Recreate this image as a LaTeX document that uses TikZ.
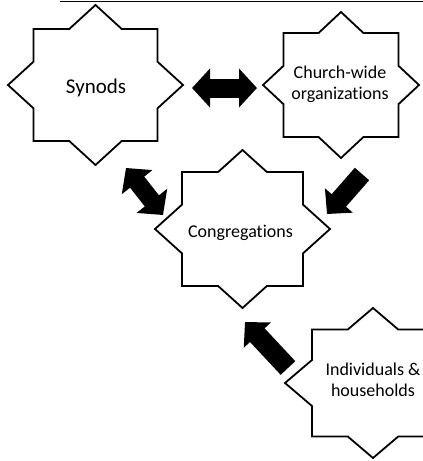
\documentclass[tikz,border=0pt]{standalone}
\usepackage{fontspec}
\setmainfont{Carlito}[Ligatures=NoCommon]
\usetikzlibrary{arrows.meta,calc}

\tikzset{
  starline/.style={line width=1.8pt, line join=miter},
  starlabel/.style={font=\fontsize{18}{21}\selectfont, align=center, inner sep=0pt},
  onearrow/.style={line width=19pt, -{Triangle[length=18pt,width=36pt]}},
  twoarrow/.style={line width=19pt, {Triangle[length=18pt,width=38pt]}-{Triangle[length=18pt,width=38pt]}}
}

% eight-pointed star: centre, half width and height of the points, half width and height of the square
\newcommand{\octostar}[5]{%
  \draw[starline, shift={#1}] (0,-#3) -- ({#2*(1-#5/#3)},-#5) -- (#4,-#5) -- (#4,{-#3*(1-#4/#2)})
    -- (#2,0) -- (#4,{#3*(1-#4/#2)}) -- (#4,#5) -- ({#2*(1-#5/#3)},#5)
    -- (0,#3) -- ({-#2*(1-#5/#3)},#5) -- (-#4,#5) -- (-#4,{#3*(1-#4/#2)})
    -- (-#2,0) -- (-#4,{-#3*(1-#4/#2)}) -- (-#4,-#5) -- ({-#2*(1-#5/#3)},-#5) -- cycle;}

\begin{document}
\begin{tikzpicture}[x=1pt,y=-1pt]
	\useasboundingbox (0,0) rectangle (423,461);
	% Frame edge at the top
	\draw[line width=1.5pt] (60,1.5) -- (423,1.5);
	% Stars
	\octostar{(95.5,85)}{87.5}{80}{62}{56}
	\octostar{(341,85)}{78}{73}{57.5}{52}
	\octostar{(242.5,229)}{87.5}{79}{60.5}{57}
	\octostar{(373,383)}{88}{75}{61}{53.5}
	% Labels
	\node[starlabel, font=\fontsize{21}{25}\selectfont] (synods) at (96,88) {Synods};
	\node[starlabel] (church) at (340,84.5) {Church-wide\\organizations};
	\node[starlabel] (congr) at (240.5,232.5) {Congregations};
	\node[starlabel] (indiv) at (373,380) {Individuals \&\\households};
	% Arrows
	\draw[twoarrow] ($(synods)+(96,0)$) -- ($(church)+(-83,3.5)$);
	\draw[twoarrow, line width=18pt] ($(synods)+(30,80)$) -- ($(congr)+(-77.5,-17.5)$);
	\draw[onearrow] ($(church)+(22,89.5)$) -- ($(congr)+(86.5,-18.5)$);
	\draw[onearrow, line width=20pt] ($(indiv)+(-85,-12)$) -- ($(congr)+(4.5,89.5)$);
\end{tikzpicture}
\end{document}
